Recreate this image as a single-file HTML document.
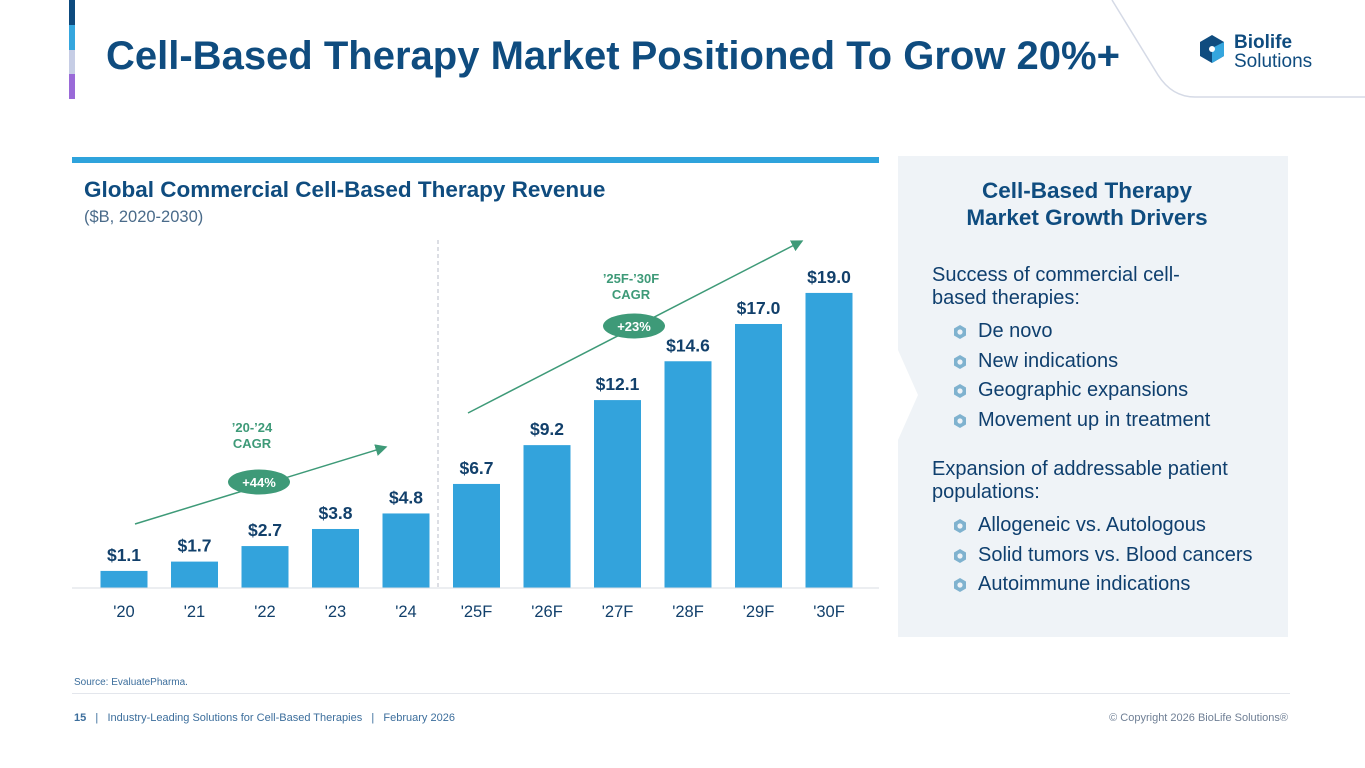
<!DOCTYPE html>
<html><head><meta charset="utf-8"><style>
body{margin:0;width:1365px;height:768px;background:#fff;font-family:"Liberation Sans",sans-serif;position:relative;overflow:hidden}
.a{position:absolute}
</style></head><body>
<div class="a" style="left:69px;top:0;width:6px;height:25px;background:#0d4a7e"></div>
<div class="a" style="left:69px;top:25px;width:6px;height:25px;background:#35a6de"></div>
<div class="a" style="left:69px;top:50px;width:6px;height:24px;background:#c6cde5"></div>
<div class="a" style="left:69px;top:74px;width:6px;height:25px;background:#9a6ad8"></div>
<div class="a" style="left:106px;top:34px;font-size:40px;font-weight:bold;color:#0f4c7f;white-space:nowrap">Cell-Based Therapy Market Positioned To Grow 20%+</div>
<svg class="a" style="left:1100px;top:0" width="265" height="100"><path d="M12,0 L58,75 Q72,97 95,97 L265,97" fill="#fff" stroke="#d5dae6" stroke-width="1.5"/>
<g transform="translate(100,35)"><polygon points="12,0 24,7 24,21 12,28 0,21 0,7" fill="#0f4c7f"/><polygon points="12,13 24,7 24,21 12,28" fill="#35a6de"/><circle cx="12" cy="14" r="3" fill="#fff"/></g>
<text x="134" y="48" font-size="19" font-weight="bold" fill="#0f4c7f" font-family="Liberation Sans">Biolife</text><text x="134" y="67" font-size="19" fill="#0f4c7f" font-family="Liberation Sans">Solutions</text></svg>
<div class="a" style="left:72px;top:157px;width:807px;height:6px;background:#2ea3dc"></div>
<div class="a" style="left:84px;top:177px;font-size:22.5px;font-weight:bold;color:#0f4c7f">Global Commercial Cell-Based Therapy Revenue</div>
<div class="a" style="left:84px;top:208px;font-size:16.5px;color:#4a6b8a">($B, 2020-2030)</div>
<svg class="a" id="chart" style="left:0;top:0" width="890" height="650"></svg>
<svg class="a" style="left:898px;top:156px" width="390" height="481"><path d="M0,0 H390 V481 H0 V284 L20,239 L0,194 Z" fill="#eff3f7"/></svg>
<div class="a" style="left:898px;top:177px;width:378px;text-align:center;font-size:22.5px;font-weight:bold;color:#0f4c7f;line-height:27px">Cell-Based Therapy<br>Market Growth Drivers</div>
<div class="a" style="left:932px;top:264px;font-size:20px;color:#0f3f6e;line-height:23px">
<div>Success of commercial cell-<br>based therapies:</div>
<div id="l1" style="margin-top:7px;line-height:29.7px"></div>
<div style="height:22px"></div>
<div>Expansion of addressable patient<br>populations:</div>
<div id="l2" style="margin-top:7px;line-height:29.7px"></div>
</div>
<div class="a" style="left:74px;top:677px;font-size:10px;color:#3c6e9c">Source: EvaluatePharma.</div>
<div class="a" style="left:72px;top:693px;width:1218px;height:1px;background:#e3e6ec"></div>
<div class="a" style="left:74px;top:712px;font-size:11px;color:#3c6e9c;white-space:pre"><b>15</b>   |   Industry-Leading Solutions for Cell-Based Therapies   |   February 2026</div>
<div class="a" style="left:1000px;top:712px;width:288px;text-align:right;font-size:11px;color:#6f7f95">© Copyright 2026 BioLife Solutions®</div>
<script>
const categories=["'20","'21","'22","'23","'24","'25F","'26F","'27F","'28F","'29F","'30F"];
const values=[1.1,1.7,2.7,3.8,4.8,6.7,9.2,12.1,14.6,17.0,19.0];
const valueLabels=["$1.1","$1.7","$2.7","$3.8","$4.8","$6.7","$9.2","$12.1","$14.6","$17.0","$19.0"];
const NS="http://www.w3.org/2000/svg",svg=document.getElementById('chart');
const x=i=>124+i*70.5, y=v=>588-v*15.53;
function mk(t,a){const e=document.createElementNS(NS,t);for(const k in a)e.setAttribute(k,a[k]);svg.appendChild(e);return e;}
values.forEach((v,i)=>{
 const r=mk('rect',{x:x(i)-23.5,y:y(v),width:47,height:588-y(v),fill:'#33a3dc'});
 
 
 const t=mk('text',{x:x(i),y:y(v)-10,'text-anchor':'middle','font-size':17.5,'font-weight':'bold',fill:'#12406b','font-family':'Liberation Sans'});t.textContent=valueLabels[i];
 
 
 const c=mk('text',{x:x(i),y:617,'text-anchor':'middle','font-size':16.5,fill:'#12406b','font-family':'Liberation Sans'});c.textContent=categories[i];
 
 
});
mk('line',{x1:438,y1:240,x2:438,y2:588,stroke:'#b9bec8','stroke-dasharray':'4,3'});
mk('line',{x1:72,y1:588,x2:879,y2:588,stroke:'#d9dde3'});
mk('defs',{}).innerHTML='<marker id="ar" markerWidth="8" markerHeight="8" refX="7" refY="4" orient="auto"><path d="M0,0 L8,4 L0,8 Z" fill="#3e9a78"/></marker>';
mk('line',{x1:135,y1:524,x2:386,y2:447,stroke:'#3e9a78','stroke-width':1.5,'marker-end':'url(#ar)'});
mk('line',{x1:468,y1:413,x2:802,y2:241,stroke:'#3e9a78','stroke-width':1.5,'marker-end':'url(#ar)'});
[[259,482,'+44%',252,"’20-’24"],[634,326,'+23%',631,"’25F-’30F"]].forEach(([cx,cy,lab,tx,l1])=>{
 mk('ellipse',{cx,cy,rx:31,ry:12.5,fill:'#3e9a78'});
 const t=mk('text',{x:cx,y:cy+5,'text-anchor':'middle','font-size':13,'font-weight':'bold',fill:'#fff','font-family':'Liberation Sans'});t.textContent=lab;
 const off=cx>500?-43:-50;
 const a=mk('text',{x:tx,y:cy+off,'text-anchor':'middle','font-size':13,'font-weight':'bold',fill:'#3e9a78','font-family':'Liberation Sans'});a.textContent=l1;
 const b=mk('text',{x:tx,y:cy+off+16,'text-anchor':'middle','font-size':13,'font-weight':'bold',fill:'#3e9a78','font-family':'Liberation Sans'});b.textContent='CAGR';
});
function list(id,items){const el=document.getElementById(id);items.forEach(s=>{const d=document.createElement('div');d.style.paddingLeft='46px';d.style.position='relative';
 d.innerHTML='<svg style="position:absolute;left:21px;top:8px" width="14" height="14"><polygon points="7,0 13,3.5 13,10.5 7,14 1,10.5 1,3.5" fill="#7fb2cf"/><circle cx="7" cy="7" r="2.6" fill="#eff3f7"/></svg><span>'+s+'</span>';
 
 
 el.appendChild(d);});}
list('l1',['De novo','New indications','Geographic expansions','Movement up in treatment']);
list('l2',['Allogeneic vs. Autologous','Solid tumors vs. Blood cancers','Autoimmune indications']);
</script>
</body></html>
